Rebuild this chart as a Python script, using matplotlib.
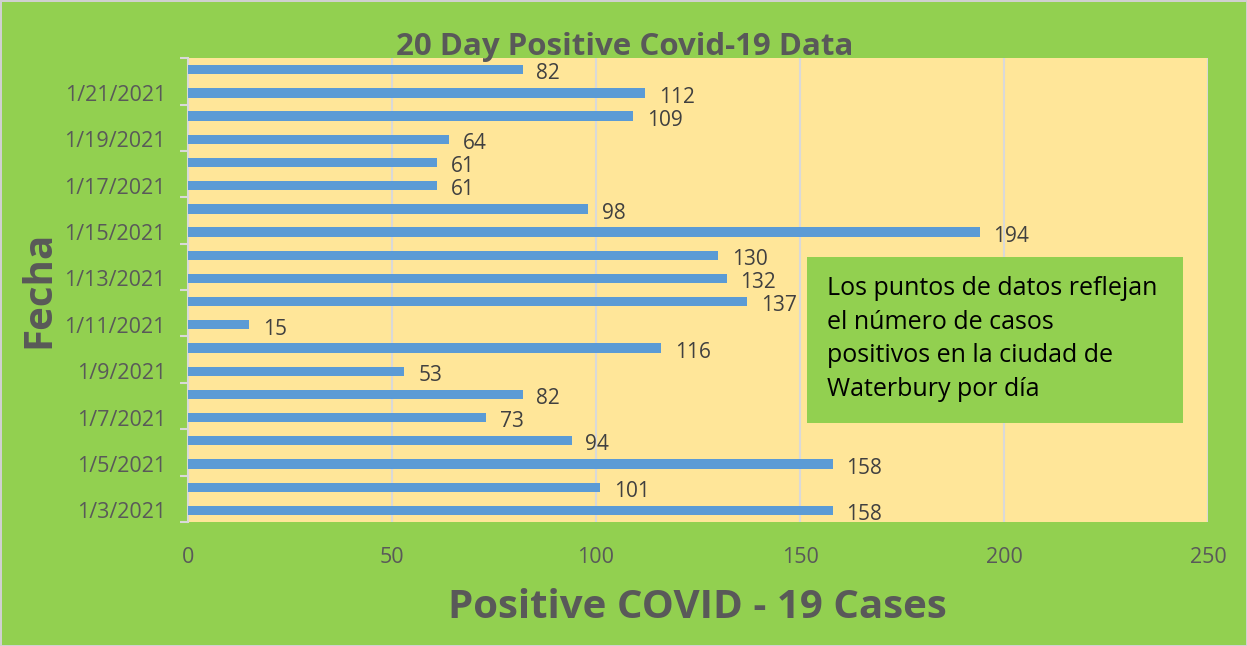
import matplotlib

matplotlib.use("Agg")
import matplotlib.pyplot as plt
import numpy as np

# ============================================================================
# Data (bottom to top)
# ============================================================================

dates = [
    "1/3/2021", "1/4/2021", "1/5/2021", "1/6/2021", "1/7/2021",
    "1/8/2021", "1/9/2021", "1/10/2021", "1/11/2021", "1/12/2021",
    "1/13/2021", "1/14/2021", "1/15/2021", "1/16/2021", "1/17/2021",
    "1/18/2021", "1/19/2021", "1/20/2021", "1/21/2021", "1/22/2021",
]
cases = [158, 101, 158, 94, 73, 82, 53, 116, 15, 137,
         132, 130, 194, 98, 61, 61, 64, 109, 112, 82]
x_ticks = [0, 50, 100, 150, 200, 250]

TITLE = "20 Day Positive Covid-19 Data"
X_LABEL = "Positive COVID - 19 Cases"
Y_LABEL = "Fecha"
NOTE = ("Los puntos de datos reflejan\nel número de casos\n"
        "positivos en la ciudad de\nWaterbury por día")

BG_GREEN = "#92D050"
PLOT_YELLOW = "#FFE699"
BAR_BLUE = "#5B9BD5"
GRID = "#D9D9D9"
TEXT_GRAY = "#595959"

plt.rcParams["font.family"] = ["Open Sans", "DejaVu Sans"]

fig = plt.figure(figsize=(12.47, 6.46), dpi=100, facecolor=BG_GREEN,
                 edgecolor="#D0D0D0", linewidth=2)
ax = fig.add_axes([0.1508, 0.192, 0.8179, 0.718])
ax.set_facecolor(PLOT_YELLOW)

y = np.arange(len(dates))
ax.barh(y, cases, height=0.4, color=BAR_BLUE, zorder=3)
for yi, v in zip(y, cases):
    ax.annotate(str(v), (v, yi), xytext=(10, -3), textcoords="offset points",
                va="center", ha="left", fontsize=15, color="#404040")

ax.set_xlim(0, 250)
ax.set_ylim(-0.5, len(dates) - 0.5)
ax.set_xticks(x_ticks)
ax.grid(axis="x", color=GRID, linewidth=1.5, zorder=1)
ax.tick_params(axis="x", length=0, pad=18, labelsize=15.5, labelcolor=TEXT_GRAY)

ax.set_yticks(y[::2])
ax.set_yticklabels(dates[::2])
ax.set_yticks(np.arange(-0.5, len(dates), 2), minor=True)
ax.tick_params(axis="y", which="major", length=0, pad=16, labelsize=15.5,
               labelcolor=TEXT_GRAY)
ax.tick_params(axis="y", which="minor", length=6, width=1.5, color=GRID)

for side in ["top", "right", "bottom"]:
    ax.spines[side].set_visible(False)
ax.spines["left"].set_color(GRID)
ax.spines["left"].set_linewidth(1.5)

fig.text(0.501, 0.928, TITLE, ha="center", va="center", fontsize=22.5,
         fontweight="bold", color=TEXT_GRAY)
fig.text(0.559, 0.060, X_LABEL, ha="center", va="center", fontsize=29,
         fontweight="bold", color=TEXT_GRAY)
fig.text(0.031, 0.552, Y_LABEL, ha="center", va="center", rotation=90,
         fontsize=29, fontweight="bold", color=TEXT_GRAY)

box = plt.Rectangle((807 / 1247, 1 - 423 / 646), 376 / 1247, 166 / 646,
                    transform=fig.transFigure, facecolor=BG_GREEN,
                    edgecolor="none", zorder=5)
fig.patches.append(box)
fig.text(827 / 1247, 1 - 276 / 646, NOTE, ha="left", va="top", fontsize=18,
         color="black", linespacing=1.45, zorder=6)

plt.savefig("out.png", dpi=100, facecolor=fig.get_facecolor(),
            edgecolor=fig.get_edgecolor())
